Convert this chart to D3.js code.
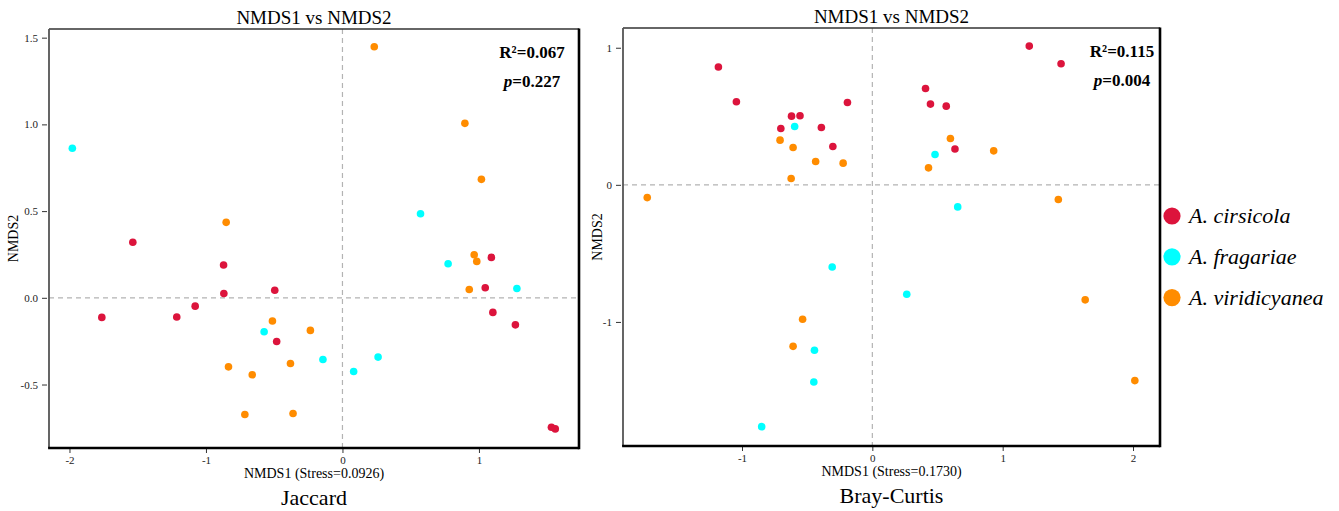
<!DOCTYPE html>
<html>
<head>
<meta charset="utf-8">
<script src="https://cdn.jsdelivr.net/npm/d3@7"></script>
<style>
  body { margin: 0; background: #fff; }
  svg { display: block; font-family: "Liberation Serif", "Times New Roman", serif; }
  text { font-family: "Liberation Serif", "Times New Roman", serif; }
  .tick text { font-size: 11px; fill: #222; }
  .tick line { stroke: #333; }
</style>
</head>
<body>
<svg id="chart"></svg>
<script>
// groups shown in the legend
const groups = ['A. cirsicola', 'A. fragariae', 'A. viridicyanea'];
const groupColors = ['#dc143c', '#00ffff', '#ff8c00'];

// Jaccard NMDS scores [NMDS1, NMDS2]
const jaccardCirsicola = [[-1.536, 0.320], [-0.871, 0.189], [-0.869, 0.025], [-0.496, 0.044], [-1.763, -0.113],
  [-1.214, -0.111], [-1.079, -0.048], [-0.482, -0.252], [1.091, 0.233], [1.046, 0.058], [1.102, -0.084],
  [1.267, -0.156], [1.531, -0.746], [1.559, -0.756]];
const jaccardFragariae = [[-1.979, 0.862], [0.572, 0.485], [0.774, 0.196], [1.278, 0.054], [-0.574, -0.196],
  [-0.143, -0.356], [0.261, -0.342], [0.082, -0.425]];
const jaccardViridicyanea = [[0.233, 1.448], [0.897, 1.006], [1.018, 0.683], [-0.852, 0.435], [0.965, 0.248],
  [0.984, 0.210], [0.929, 0.048], [-0.513, -0.134], [-0.235, -0.188], [-0.835, -0.398], [-0.381, -0.379],
  [-0.661, -0.444], [-0.715, -0.673], [-0.362, -0.667]];

// Bray-Curtis NMDS scores [NMDS1, NMDS2]
const brayCirsicola = [[1.204, 1.012], [1.448, 0.883], [-1.181, 0.859], [-1.043, 0.606], [-0.191, 0.601],
  [0.408, 0.703], [0.446, 0.589], [0.567, 0.574], [-0.620, 0.501], [-0.555, 0.504], [-0.702, 0.411],
  [-0.391, 0.418], [-0.303, 0.280], [0.634, 0.261]];
const brayFragariae = [[-0.596, 0.426], [0.481, 0.221], [0.655, -0.161], [-0.308, -0.599], [0.264, -0.798],
  [-0.444, -1.207], [-0.449, -1.438], [-0.849, -1.764]];
const brayViridicyanea = [[-0.708, 0.326], [-0.608, 0.272], [-0.435, 0.170], [-0.224, 0.158], [-0.623, 0.046],
  [0.599, 0.338], [0.431, 0.124], [0.931, 0.248], [-1.727, -0.093], [1.427, -0.107], [1.633, -0.839],
  [-0.535, -0.980], [-0.608, -1.178], [2.014, -1.428]];

// axis limits and ticks
const jaccardXDomain = [-2.15, 1.733];
const jaccardYDomain = [-0.866, 1.55];
const jaccardXTicks = [-2, -1, 0, 1];
const jaccardYTicks = [-0.5, 0, 0.5, 1, 1.5];
const brayXDomain = [-1.913, 2.207];
const brayYDomain = [-1.905, 1.144];
const brayXTicks = [-1, 0, 1, 2];
const brayYTicks = [-1, 0, 1];

// statistics
const jaccardStats = { r2: '0.067', p: '0.227', stress: '0.0926' };
const brayStats = { r2: '0.115', p: '0.004', stress: '0.1730' };

class NmdsPlot {

  constructor(_config, _groups) {
    this.config = {
      svg: _config.svg,
      box: _config.box,
      xDomain: _config.xDomain,
      yDomain: _config.yDomain,
      xTicks: _config.xTicks,
      yTicks: _config.yTicks,
      yFormat: _config.yFormat || (d => String(d)),
      stats: _config.stats,
      name: _config.name,
      yTitleOffset: _config.yTitleOffset,
      statsOffset: _config.statsOffset
    };
    this.groups = _groups;
    this.initVis();
  }

  initVis() {
    let vis = this;
    const b = vis.config.box;

    vis.xScale = d3.scaleLinear().domain(vis.config.xDomain).range([b.left, b.right]);
    vis.yScale = d3.scaleLinear().domain(vis.config.yDomain).range([b.bottom, b.top]);

    vis.g = vis.config.svg.append('g');

    // zero reference lines
    vis.g.append('line')
        .attr('x1', vis.xScale(0)).attr('x2', vis.xScale(0))
        .attr('y1', b.top).attr('y2', b.bottom)
        .attr('stroke', '#b3b3b3').attr('stroke-width', 1.2).attr('stroke-dasharray', '5,4');
    vis.g.append('line')
        .attr('x1', b.left).attr('x2', b.right)
        .attr('y1', vis.yScale(0)).attr('y2', vis.yScale(0))
        .attr('stroke', '#b3b3b3').attr('stroke-width', 1.2).attr('stroke-dasharray', '5,4');

    // axes
    vis.g.append('g')
        .attr('transform', `translate(0,${b.bottom + 1})`)
        .call(d3.axisBottom(vis.xScale).tickValues(vis.config.xTicks).tickSize(4).tickPadding(3).tickFormat(d => String(d)))
        .call(g => g.select('.domain').remove())
        .attr('font-family', null);
    vis.g.append('g')
        .attr('transform', `translate(${b.left - 2},0)`)
        .call(d3.axisLeft(vis.yScale).tickValues(vis.config.yTicks).tickSize(5).tickPadding(4).tickFormat(vis.config.yFormat))
        .call(g => g.select('.domain').remove())
        .attr('font-family', null);

    // box: thin top/left, heavy right/bottom
    vis.g.append('line').attr('x1', b.left).attr('x2', b.right).attr('y1', b.top).attr('y2', b.top)
        .attr('stroke', '#333').attr('stroke-width', 1.3);
    vis.g.append('line').attr('x1', b.left).attr('x2', b.left).attr('y1', b.top).attr('y2', b.bottom)
        .attr('stroke', '#555').attr('stroke-width', 1.8);
    vis.g.append('line').attr('x1', b.right).attr('x2', b.right).attr('y1', b.top - 0.6).attr('y2', b.bottom + 1.3)
        .attr('stroke', '#000').attr('stroke-width', 2.6);
    vis.g.append('line').attr('x1', b.left - 0.9).attr('x2', b.right).attr('y1', b.bottom).attr('y2', b.bottom)
        .attr('stroke', '#000').attr('stroke-width', 2.6);

    const cx = (b.left + b.right) / 2;

    vis.g.append('text')
        .attr('x', cx).attr('y', b.top - 5)
        .attr('text-anchor', 'middle')
        .style('font-size', '19px')
        .text('NMDS1 vs NMDS2');

    vis.g.append('text')
        .attr('x', cx).attr('y', b.bottom + 30)
        .attr('text-anchor', 'middle')
        .style('font-size', '14px')
        .text(`NMDS1 (Stress=${vis.config.stats.stress})`);

    vis.g.append('text')
        .attr('x', cx).attr('y', b.bottom + 57)
        .attr('text-anchor', 'middle')
        .style('font-size', '22px')
        .text(vis.config.name);

    vis.g.append('text')
        .attr('transform', `translate(${b.left - vis.config.yTitleOffset},${(b.top + b.bottom) / 2}) rotate(-90)`)
        .attr('text-anchor', 'middle')
        .style('font-size', '14px')
        .text('NMDS2');

    // R2 and p value
    const sx = b.right - vis.config.statsOffset;
    vis.g.append('text')
        .attr('x', sx).attr('y', b.top + 29)
        .attr('text-anchor', 'middle')
        .style('font-size', '17px').style('font-weight', 'bold')
        .text(`R\u00b2=${vis.config.stats.r2}`);
    const pText = vis.g.append('text')
        .attr('x', sx).attr('y', b.top + 58)
        .attr('text-anchor', 'middle')
        .style('font-size', '17px').style('font-weight', 'bold');
    pText.append('tspan').style('font-style', 'italic').text('p');
    pText.append('tspan').text(`=${vis.config.stats.p}`);

    vis.renderVis();
  }

  renderVis() {
    let vis = this;

    vis.groups.forEach((pts, i) => {
      vis.g.append('g').selectAll('circle')
          .data(pts)
          .join('circle')
          .attr('cx', d => vis.xScale(d[0]))
          .attr('cy', d => vis.yScale(d[1]))
          .attr('r', 3.8)
          .attr('fill', groupColors[i]);
    });
  }
}

const svg = d3.select('#chart')
    .attr('width', 1339)
    .attr('height', 511);

new NmdsPlot({
  svg: svg,
  box: { left: 49, top: 29, right: 579, bottom: 448 },
  xDomain: jaccardXDomain, yDomain: jaccardYDomain,
  xTicks: jaccardXTicks, yTicks: jaccardYTicks,
  yFormat: d => d.toFixed(1),
  stats: jaccardStats,
  name: 'Jaccard',
  yTitleOffset: 31,
  statsOffset: 47
}, [jaccardCirsicola, jaccardFragariae, jaccardViridicyanea]);

new NmdsPlot({
  svg: svg,
  box: { left: 623, top: 28, right: 1160, bottom: 446 },
  xDomain: brayXDomain, yDomain: brayYDomain,
  xTicks: brayXTicks, yTicks: brayYTicks,
  stats: brayStats,
  name: 'Bray-Curtis',
  yTitleOffset: 21,
  statsOffset: 38
}, [brayCirsicola, brayFragariae, brayViridicyanea]);

// legend
const legend = svg.append('g').attr('transform', 'translate(1172,216)');
const items = legend.selectAll('g')
    .data(groups)
    .join('g')
    .attr('transform', (d, i) => `translate(0,${i * 40.8})`);
items.append('circle')
    .attr('r', 8.6)
    .attr('fill', (d, i) => groupColors[i]);
items.append('text')
    .attr('x', 17)
    .attr('y', 7)
    .style('font-size', '22px')
    .style('font-style', 'italic')
    .text(d => d);
</script>
</body>
</html>
